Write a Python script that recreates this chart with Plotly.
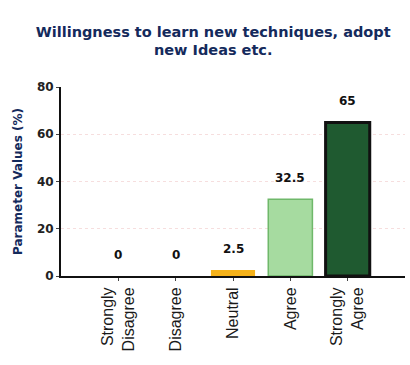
import plotly.graph_objects as go

categories = ["Strongly<br>Disagree", "Disagree", "Neutral", "Agree", "Strongly<br>Agree"]
values = [0, 0, 2.5, 32.5, 65]
value_labels = ["0", "0", "2.5", "32.5", "65"]
fill_colors = ["#e04040", "#3a6fc4", "#f5b21a", "#a6dba0", "#1f5a30"]
line_colors = ["#e04040", "#3a6fc4", "#f0a000", "#6fb86a", "#111111"]
y_ticks = [0, 20, 40, 60, 80]

x_pos = list(range(len(categories)))

fig = go.Figure()
fig.add_trace(go.Bar(
    x=x_pos,
    y=values,
    width=0.77,
    marker=dict(color=fill_colors, line=dict(color=line_colors, width=[0, 0, 0, 1.5, 3])),
    hoverinfo="skip",
))

for xi, v, lab in zip(x_pos, values, value_labels):
    fig.add_annotation(
        x=xi, y=v, text=lab, showarrow=False,
        yanchor="bottom", yshift=12,
        font=dict(family="DejaVu Sans", size=12, color="#111111", weight="bold"),
    )

fig.update_layout(
    width=410, height=365,
    margin=dict(l=61, r=5, t=87, b=89),
    paper_bgcolor="white", plot_bgcolor="white",
    showlegend=False,
    title=dict(
        text="Willingness to learn new techniques, adopt<br>new Ideas etc.",
        x=0.52, xanchor="center", y=0.9, yanchor="middle",
        font=dict(family="DejaVu Sans", size=14.5, color="#142a5c", weight="bold"),
    ),
    bargap=0.23,
)

fig.update_xaxes(
    range=[-1.0, 5.0],
    tickmode="array", tickvals=x_pos, ticktext=categories,
    tickangle=-90,
    tickfont=dict(family="Liberation Sans", size=16, color="#1a1a1a"),
    showline=True, linecolor="#111111", linewidth=2,
    showgrid=False, zeroline=False,
    ticks="outside", ticklen=3, tickcolor="#444444",
)

fig.update_yaxes(
    range=[0, 80],
    tickmode="array", tickvals=y_ticks,
    tickfont=dict(family="DejaVu Sans", size=12, color="#222222", weight="bold"),
    showline=True, linecolor="#111111", linewidth=2,
    showgrid=True, gridcolor="#f6dede", griddash="dot", gridwidth=1,
    zeroline=False,
    ticks="outside", ticklen=3, tickcolor="#444444",
    title=dict(text="Parameter Values (%)", standoff=12,
               font=dict(family="DejaVu Sans", size=12, color="#142a5c", weight="bold")),
)

fig.write_html("out.html")
